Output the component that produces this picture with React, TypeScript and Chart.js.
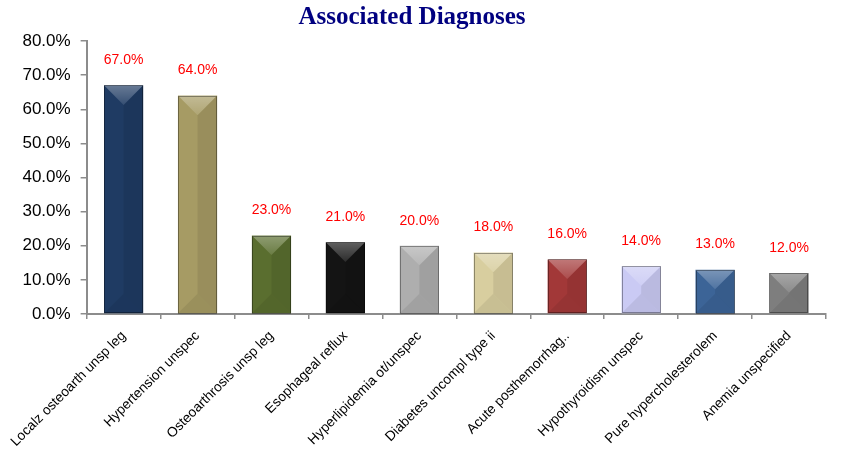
import React, { useEffect, useRef } from "react";
import { Chart, registerables } from "chart.js";

Chart.register(...registerables);

const categories = [
  "Localz osteoarth unsp leg",
  "Hypertension unspec",
  "Osteoarthrosis unsp leg",
  "Esophageal reflux",
  "Hyperlipidemia ot/unspec",
  "Diabetes uncompl type ii",
  "Acute posthemorrhag..",
  "Hypothyroidism unspec",
  "Pure hypercholesterolem",
  "Anemia unspecified",
];

const percentages = [67, 64, 23, 21, 20, 18, 16, 14, 13, 12];

const barColors = [
  "#1F3B63",
  "#A69B64",
  "#5A6E2F",
  "#141414",
  "#AEAEAE",
  "#D8CE9F",
  "#A23838",
  "#CACAF4",
  "#3C6497",
  "#7E7E7E",
];

const yTicks = [0, 10, 20, 30, 40, 50, 60, 70, 80];

const titleText = "Associated Diagnoses";

const bevelPlugin = {
  id: "bevel",
  afterDatasetsDraw(chart: any) {
    const ctx = chart.ctx;
    const meta = chart.getDatasetMeta(0);
    meta.data.forEach((bar: any) => {
      const { x, y, base, width } = bar.getProps(["x", "y", "base", "width"], true);
      const l = x - width / 2;
      const r = x + width / 2;
      const t = Math.min(y, base);
      const b = Math.max(y, base);
      const h = b - t;
      const d = Math.min(width / 2, h / 2);
      ctx.save();
      // right half darker
      ctx.beginPath();
      ctx.moveTo(x, t + d);
      ctx.lineTo(r, t);
      ctx.lineTo(r, b);
      ctx.lineTo(x, b - d);
      ctx.closePath();
      ctx.fillStyle = "rgba(0,0,0,0.08)";
      ctx.fill();
      // top bevel lighter
      ctx.beginPath();
      ctx.moveTo(l, t);
      ctx.lineTo(r, t);
      ctx.lineTo(x, t + d);
      ctx.closePath();
      const g = ctx.createLinearGradient(0, t, 0, t + d);
      g.addColorStop(0, "rgba(255,255,255,0.32)");
      g.addColorStop(1, "rgba(255,255,255,0.10)");
      ctx.fillStyle = g;
      ctx.fill();
      // bottom bevel darker
      ctx.beginPath();
      ctx.moveTo(l, b);
      ctx.lineTo(r, b);
      ctx.lineTo(x, b - d);
      ctx.closePath();
      ctx.fillStyle = "rgba(0,0,0,0.07)";
      ctx.fill();
      // border
      ctx.strokeStyle = "rgba(0,0,0,0.35)";
      ctx.lineWidth = 1;
      ctx.strokeRect(Math.round(l) + 0.5, Math.round(t) + 0.5, Math.round(width) - 1, Math.round(h) - 1);
      ctx.restore();
    });
  },
};

const valueLabelPlugin = {
  id: "valueLabels",
  afterDatasetsDraw(chart: any) {
    const ctx = chart.ctx;
    const meta = chart.getDatasetMeta(0);
    const data = chart.data.datasets[0].data as number[];
    ctx.save();
    ctx.fillStyle = "#FF0000";
    ctx.font = '14px "Liberation Sans", Arial, sans-serif';
    ctx.textAlign = "center";
    ctx.textBaseline = "middle";
    meta.data.forEach((bar: any, i: number) => {
      ctx.fillText(data[i].toFixed(1) + "%", bar.x, bar.y - 25);
    });
    ctx.restore();
  },
};

const titlePlugin = {
  id: "customTitle",
  afterDraw(chart: any) {
    const ctx = chart.ctx;
    ctx.save();
    ctx.fillStyle = "#000080";
    ctx.font = 'bold 25px "Liberation Serif", "Times New Roman", serif';
    ctx.textAlign = "center";
    ctx.textBaseline = "middle";
    ctx.fillText(titleText, chart.width * 0.487, 18);
    ctx.restore();
  },
};

export default function App() {
  const canvasRef = useRef<HTMLCanvasElement | null>(null);

  useEffect(() => {
    document.body.style.margin = "0";
    const canvas = canvasRef.current;
    if (!canvas) return;
    const chart = new Chart(canvas, {
      type: "bar",
      data: {
        labels: categories,
        datasets: [
          {
            data: percentages,
            backgroundColor: barColors,
            borderWidth: 0,
            categoryPercentage: 1,
            barPercentage: 0.53,
          },
        ],
      },
      options: {
        animation: false,
        responsive: false,
        layout: { padding: { top: 41, right: 20, left: 0, bottom: 0 } },
        plugins: {
          legend: { display: false },
          title: { display: false },
          tooltip: { enabled: false },
        },
        scales: {
          x: {
            grid: {
              display: true,
              drawOnChartArea: false,
              drawTicks: true,
              tickLength: 5,
              color: "#8C8C8C",
              lineWidth: 1.5,
            },
            border: { display: true, color: "#8C8C8C", width: 2 },
            ticks: {
              color: "#000",
              font: { family: '"Liberation Sans", Arial, sans-serif', size: 13.7 },
              maxRotation: 45,
              minRotation: 45,
              autoSkip: false,
              padding: 9,
            },
            afterFit: (scale: any) => {
              scale.height = 137;
            },
          },
          y: {
            min: 0,
            max: 80,
            afterBuildTicks: (scale: any) => {
              scale.ticks = yTicks.map((v) => ({ value: v }));
            },
            grid: {
              display: true,
              drawOnChartArea: false,
              drawTicks: true,
              tickLength: 6,
              color: "#8C8C8C",
              lineWidth: 1.5,
            },
            border: { display: true, color: "#8C8C8C", width: 2 },
            ticks: {
              color: "#000",
              font: { family: '"Liberation Sans", Arial, sans-serif', size: 17 },
              padding: 10,
              callback: (v: any) => Number(v).toFixed(1) + "%",
            },
            afterFit: (scale: any) => {
              scale.width = 86;
            },
          },
        },
      },
      plugins: [bevelPlugin, valueLabelPlugin, titlePlugin],
    });
    return () => chart.destroy();
  }, []);

  return (
    <div style={{ position: "absolute", left: 0, top: 0, width: 846, height: 451 }}>
      <canvas ref={canvasRef} width={846} height={451} />
    </div>
  );
}
